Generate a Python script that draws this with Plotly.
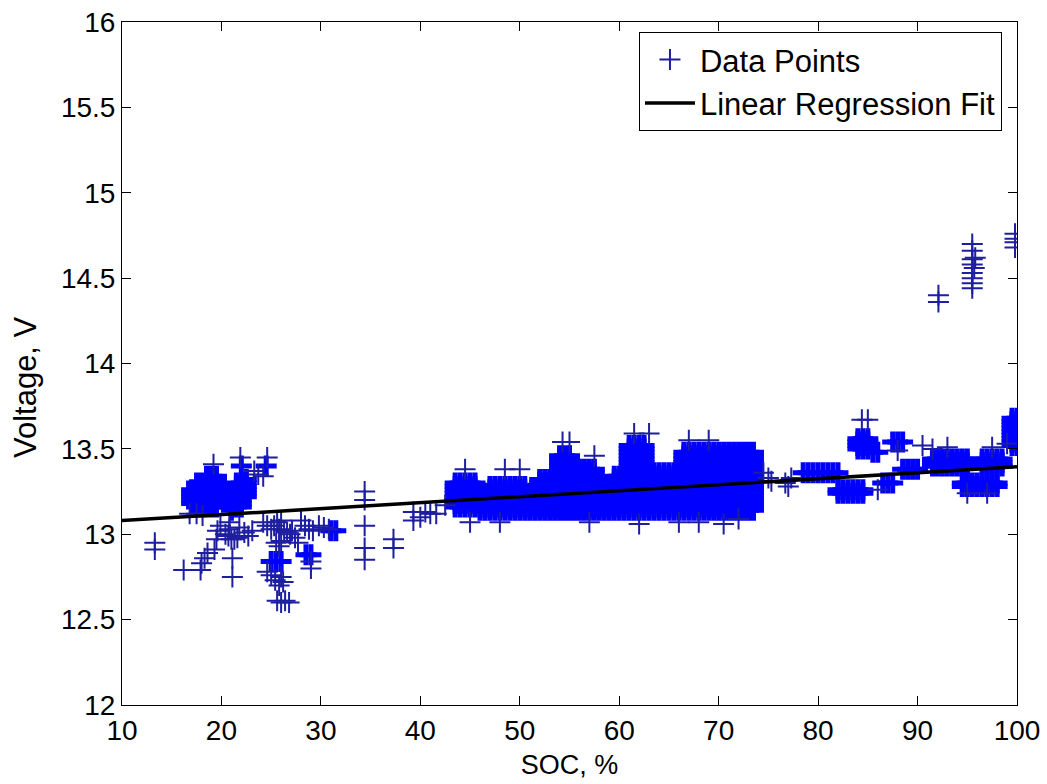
import plotly.graph_objects as go

# ---------------- axis ticks ----------------
x_ticks = [10, 20, 30, 40, 50, 60, 70, 80, 90, 100]
y_ticks = [12, 12.5, 13, 13.5, 14, 14.5, 15, 15.5, 16]
y_tick_text = ["12", "12.5", "13", "13.5", "14", "14.5", "15", "15.5", "16"]

# ---------------- linear regression fit ----------------
fit_soc = [10, 100]
fit_volt = [13.08, 13.395]

# ---------------- isolated data points (SOC %, Voltage V) ----------------
sparse_soc = [
    13.3, 13.3, 16.2, 17.9, 18.0, 18.3, 18.6, 19.3, 19.5, 19.6, 19.9,
    20.4, 20.7, 21.0, 21.3, 21.6, 21.1, 21.1, 21.8, 22.3, 22.7, 23.1,
    16.8, 17.5, 18.1, 20.8, 20.8, 19.2, 21.9, 24.6, 23.3, 23.7, 24.2,
    24.2, 24.6, 25.0, 25.3, 25.6, 25.8, 26.0, 26.3, 26.6, 26.9,
    25.5, 25.8, 26.0, 24.6, 25.0, 25.4, 25.8, 26.0, 26.2,
    25.6, 26.0, 26.4, 26.8, 27.1, 27.4, 27.7, 28.0, 28.4, 28.8, 29.2,
    29.0, 29.0, 29.8, 30.3, 30.8,
    34.4, 34.4, 34.4, 34.4, 34.4, 37.3, 37.3, 39.3, 39.3,
    40.0, 40.5, 41.0, 41.6, 42.5,
    44.5, 48.5, 50.0, 54.3, 55.0, 61.5, 63.0, 57.5, 67.0, 69.0,
    45.0, 48.0, 57.0, 62.0, 66.0, 68.0, 70.5, 72.0,
    74.5, 75.0, 75.3, 76.7, 77.0, 77.3, 84.4, 85.0, 88.0, 86.0, 95.0, 97.0,
    92.1, 92.1, 95.5, 95.5, 95.5, 95.5, 95.7, 95.5, 95.5, 95.5, 95.5, 95.8,
    99.8, 99.8, 99.8, 99.8,
    90.5, 91.5, 93.0, 97.5, 99.0,
]
sparse_volt = [
    12.95, 12.91, 12.79, 12.79, 12.83, 12.86, 12.89, 12.91, 12.97, 13.02, 13.05,
    13.00, 12.99, 12.97, 12.97, 12.98, 12.86, 12.75, 13.04, 13.01, 12.99, 13.02,
    13.12, 13.12, 13.11, 13.07, 13.03, 13.41, 13.45, 13.45, 13.37, 13.35, 13.34,
    13.07, 13.05, 13.03, 13.05, 13.07, 13.03, 13.08, 13.02, 13.01, 13.00,
    12.95, 12.93, 12.96, 12.78, 12.76, 12.73, 12.70, 12.75, 12.72,
    12.61, 12.60, 12.61, 12.60, 13.02, 12.98, 12.95, 13.08, 13.05, 13.03, 13.02,
    12.84, 12.80, 13.05, 13.04, 13.03,
    13.25, 13.20, 13.05, 12.92, 12.85, 12.97, 12.92, 13.13, 13.08,
    13.10, 13.13, 13.12, 13.12, 13.17,
    13.38, 13.38, 13.38, 13.54, 13.54, 13.59, 13.59, 13.46, 13.55, 13.55,
    13.07, 13.07, 13.07, 13.06, 13.07, 13.07, 13.06, 13.09,
    13.36, 13.33, 13.31, 13.30, 13.28, 13.33, 13.67, 13.67, 13.49, 13.26, 13.24, 13.24,
    14.40, 14.36, 14.70, 14.66, 14.61, 14.58, 14.56, 14.53, 14.50, 14.47, 14.44, 14.62,
    14.76, 14.73, 14.71, 14.68,
    13.52, 13.50, 13.51, 13.51, 13.53,
]

# ---------------- densely sampled regions ----------------
# SOC sampling columns and voltage levels (as read from the plot)
soc_cols = [
    16.0, 16.5, 17.0, 17.5, 18.0, 18.5, 19.0, 19.5, 20.0, 20.5, 21.0, 21.5, 22.0, 22.5,
    23.0, 23.5, 24.0, 24.5, 25.0, 25.5, 26.0, 26.5, 27.0, 27.5, 28.0, 28.5, 29.0, 29.5,
    30.0, 30.5, 31.0, 31.5, 32.0, 32.5, 33.0, 33.5, 34.0, 34.5, 35.0, 35.5, 36.0, 36.5,
    37.0, 37.5, 38.0, 38.5, 39.0, 39.5, 40.0, 40.5, 41.0, 41.5, 42.0, 42.5, 43.0, 43.5,
    44.0, 44.5, 45.0, 45.5, 46.0, 46.5, 47.0, 47.5, 48.0, 48.5, 49.0, 49.5, 50.0, 50.5,
    51.0, 51.5, 52.0, 52.5, 53.0, 53.5, 54.0, 54.5, 55.0, 55.5, 56.0, 56.5, 57.0, 57.5,
    58.0, 58.5, 59.0, 59.5, 60.0, 60.5, 61.0, 61.5, 62.0, 62.5, 63.0, 63.5, 64.0, 64.5,
    65.0, 65.5, 66.0, 66.5, 67.0, 67.5, 68.0, 68.5, 69.0, 69.5, 70.0, 70.5, 71.0, 71.5,
    72.0, 72.5, 73.0, 73.5, 74.0, 74.5, 75.0, 75.5, 76.0, 76.5, 77.0, 77.5, 78.0, 78.5,
    79.0, 79.5, 80.0, 80.5, 81.0, 81.5, 82.0, 82.5, 83.0, 83.5, 84.0, 84.5, 85.0, 85.5,
    86.0, 86.5, 87.0, 87.5, 88.0, 88.5, 89.0, 89.5, 90.0, 90.5, 91.0, 91.5, 92.0, 92.5,
    93.0, 93.5, 94.0, 94.5, 95.0, 95.5, 96.0, 96.5, 97.0, 97.5, 98.0, 98.5, 99.0, 99.5,
    100.0,
]
volt_levels = [
    12.80, 12.82, 12.84, 12.86, 12.88, 12.90, 12.92, 12.94, 12.96, 12.98,
    13.00, 13.02, 13.04, 13.06, 13.08, 13.10, 13.12, 13.14, 13.16, 13.18,
    13.20, 13.22, 13.24, 13.26, 13.28, 13.30, 13.32, 13.34, 13.36, 13.38,
    13.40, 13.42, 13.44, 13.46, 13.48, 13.50, 13.52, 13.54, 13.56, 13.58,
    13.60, 13.62, 13.64, 13.66, 13.68, 13.70, 13.72,
]
# extents of each dense cluster (sample centres)
dense_soc_lo = [17.0, 17.5, 18.5, 21.0, 21.5, 22.5, 22.0, 24.5, 25.0, 28.5, 31.0,
                43.5, 46.0, 47.0, 51.0, 52.0, 54.0, 55.5, 58.0, 59.5, 61.0, 63.0, 66.5,
                78.5, 82.0, 84.0, 85.5, 86.5, 87.5, 88.5, 91.5, 94.5, 96.5, 99.5]
dense_soc_hi = [17.0, 18.0, 19.5, 21.0, 22.0, 22.5, 22.0, 24.5, 26.0, 29.0, 31.5,
                45.5, 46.5, 50.5, 51.5, 53.5, 55.0, 57.5, 59.0, 60.5, 62.5, 66.0, 73.5,
                82.0, 84.5, 85.0, 86.0, 87.5, 88.5, 90.0, 95.0, 98.0, 98.5, 100.0]
dense_volt_lo = [13.18, 13.16, 13.16, 13.14, 13.16, 13.22, 13.40, 13.40, 12.84, 12.88, 13.02,
                 13.16, 13.14, 13.14, 13.14, 13.14, 13.14, 13.14, 13.14, 13.14, 13.14, 13.14, 13.14,
                 13.36, 13.24, 13.50, 13.48, 13.30, 13.54, 13.38, 13.40, 13.28, 13.40, 13.52]
dense_volt_hi = [13.26, 13.30, 13.34, 13.24, 13.30, 13.32, 13.40, 13.40, 12.84, 12.88, 13.02,
                 13.30, 13.24, 13.28, 13.24, 13.32, 13.46, 13.38, 13.28, 13.34, 13.52, 13.36, 13.48,
                 13.36, 13.26, 13.56, 13.48, 13.30, 13.54, 13.38, 13.44, 13.30, 13.44, 13.68]

dense_soc, dense_volt = [], []
eps = 1e-9
for s0, s1, v0, v1 in zip(dense_soc_lo, dense_soc_hi, dense_volt_lo, dense_volt_hi):
    for s in soc_cols:
        if s0 - eps <= s <= s1 + eps:
            for v in volt_levels:
                if v0 - eps <= v <= v1 + eps:
                    dense_soc.append(s)
                    dense_volt.append(v)

FONT = "Liberation Sans, Arial, Helvetica, sans-serif"

fig = go.Figure()
fig.add_trace(go.Scatter(
    x=dense_soc, y=dense_volt, mode="markers", name="Data Points",
    legendgroup="data", showlegend=False,
    marker=dict(symbol="cross-thin", size=15, color="#0000ff",
                line=dict(width=5, color="#0000ff")),
))
fig.add_trace(go.Scatter(
    x=sparse_soc, y=sparse_volt, mode="markers", name="Data Points",
    legendgroup="data",
    marker=dict(symbol="cross-thin", size=15, color="#1e1ea0",
                line=dict(width=2, color="#1e1ea0")),
))
fig.add_trace(go.Scatter(
    x=fit_soc, y=fit_volt, mode="lines", name="Linear Regression Fit",
    line=dict(color="black", width=3.5),
))

axis_common = dict(
    showline=True, linecolor="black", linewidth=1, mirror="ticks",
    ticks="inside", ticklen=9, tickwidth=1, tickcolor="black",
    showgrid=False, zeroline=False,
    tickfont=dict(family=FONT, size=28, color="black"),
)

fig.update_layout(
    width=1047, height=784,
    margin=dict(l=122, r=30, t=22, b=79, autoexpand=False),
    paper_bgcolor="white", plot_bgcolor="white",
    font=dict(family=FONT, size=27, color="black"),
    xaxis=dict(range=[10, 100], tickvals=x_ticks, ticktext=[str(t) for t in x_ticks],
               title=dict(text="SOC, %", font=dict(family=FONT, size=27), standoff=10),
               **axis_common),
    yaxis=dict(range=[12, 16], tickvals=y_ticks, ticktext=y_tick_text,
               **axis_common),
    legend=dict(x=0.9832, y=0.9854, xanchor="right", yanchor="top",
                bgcolor="white", bordercolor="black", borderwidth=1,
                font=dict(family=FONT, size=31, color="black"),
                itemwidth=50, tracegroupgap=0),
    showlegend=True,
    annotations=[dict(text="Voltage, V", textangle=-90, xref="paper", yref="paper",
                      x=-0.108, y=0.466, xanchor="center", yanchor="middle",
                      showarrow=False, font=dict(family=FONT, size=31, color="black"))],
)

fig.write_html("out.html")
